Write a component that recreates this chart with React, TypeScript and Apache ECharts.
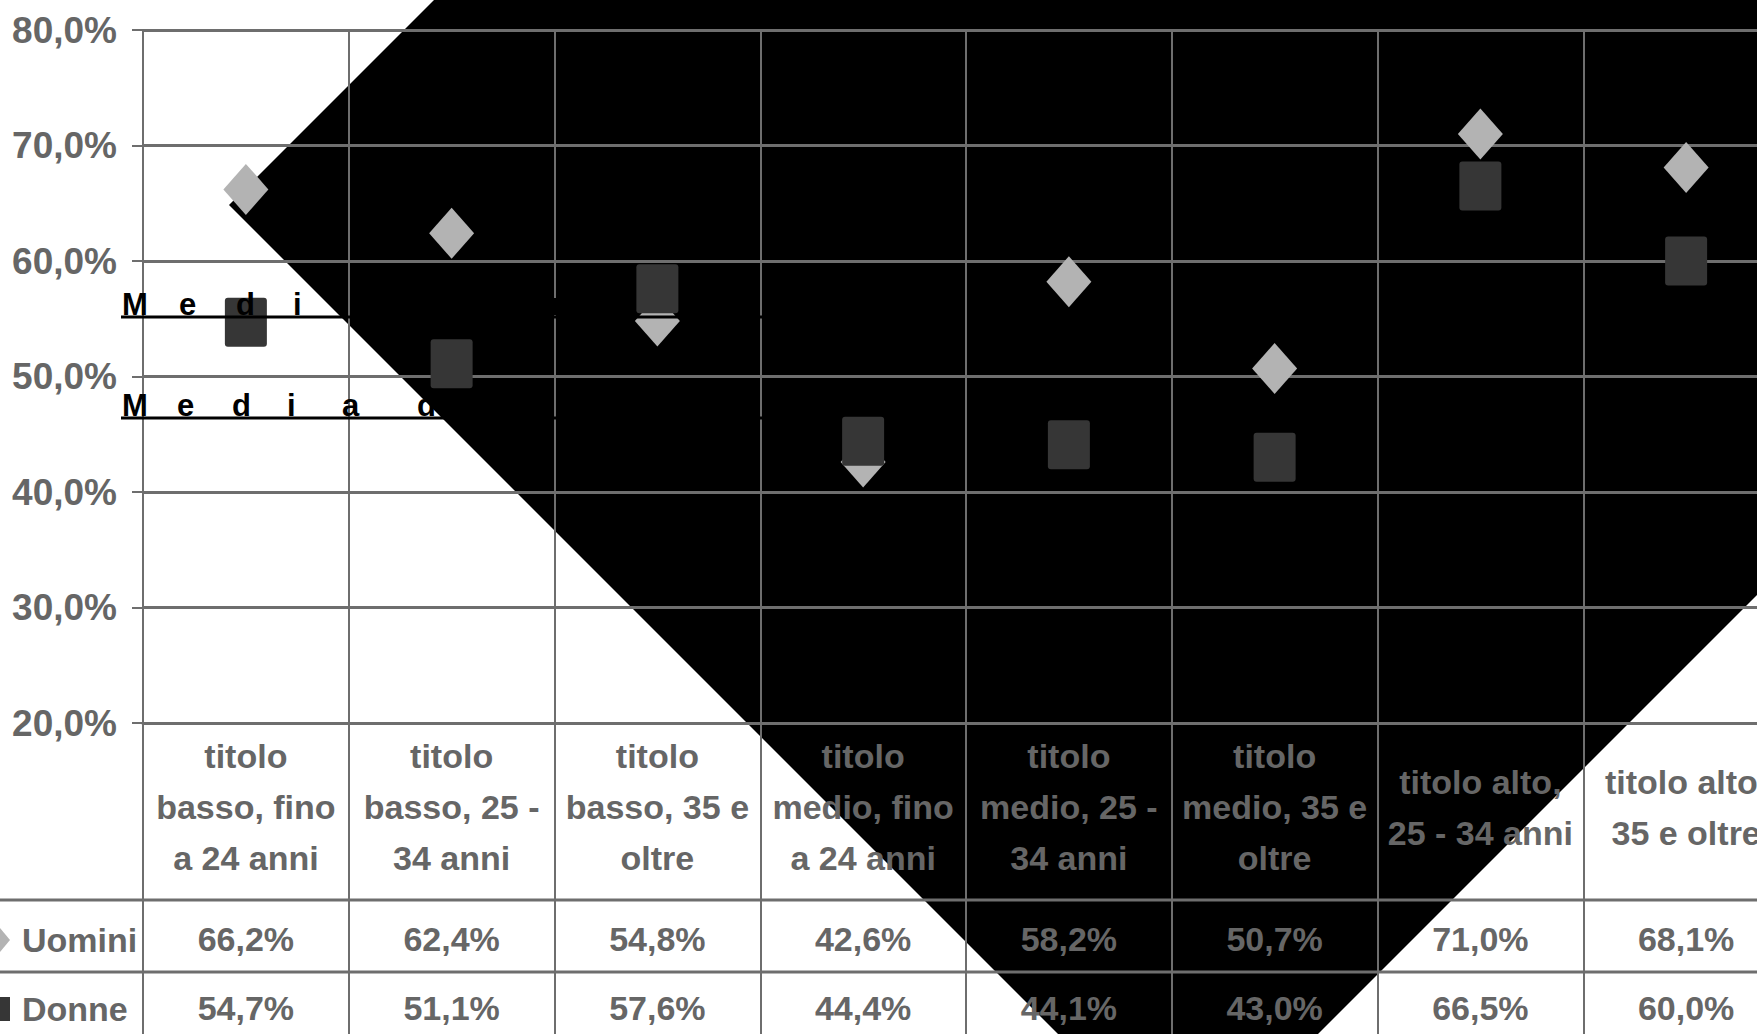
import React, { useEffect, useRef } from "react";
import * as echarts from "echarts";

const categories = [
  "titolo\nbasso, fino\na 24 anni",
  "titolo\nbasso, 25 -\n34 anni",
  "titolo\nbasso, 35 e\noltre",
  "titolo\nmedio, fino\na 24 anni",
  "titolo\nmedio, 25 -\n34 anni",
  "titolo\nmedio, 35 e\noltre",
  "titolo alto,\n25 - 34 anni",
  "titolo alto,\n35 e oltre",
];
const uomini = [66.2, 62.4, 54.8, 42.6, 58.2, 50.7, 71.0, 68.1];
const donne = [54.7, 51.1, 57.6, 44.4, 44.1, 43.0, 66.5, 60.0];
const seriesNames = ["Uomini", "Donne"];
const yMin = 20;
const yMax = 80;
const yStep = 10;
const notes = ["Media uomini", "Media donne"];

const FONT = "'Liberation Sans Narrow', 'Arial Narrow', 'Liberation Sans', Arial, sans-serif";
const GRAY = "#666666";
const LINE = "#6e6e6e";
const SQUARE = "path://M3,0L39,0Q42,0 42,3L42,46Q42,49 39,49L3,49Q0,49 0,46L0,3Q0,0 3,0Z";

const fmt = (v: number) => v.toFixed(1).replace(".", ",") + "%";

function letterTexts(str: string, x0: number, baseY: number, pitch: number, spacePitch: number) {
  const out: any[] = [];
  let x = x0;
  let word = 0;
  for (const ch of str) {
    if (ch === " ") {
      x += spacePitch;
      word += 1;
      continue;
    }
    out.push({
      type: "text",
      x,
      y: baseY - 11,
      z: word === 0 ? 100 : 1,
      style: {
        text: ch,
        fill: "#000",
        fontSize: 31,
        fontWeight: "bold",
        fontFamily: "'Liberation Sans', Arial, sans-serif",
        verticalAlign: "middle",
        align: "left",
      },
    });
    x += pitch;
  }
  return out;
}

export default function App() {
  const ref = useRef<HTMLDivElement>(null);
  useEffect(() => {
    const chart = echarts.init(ref.current!, null, { renderer: "svg" });
    const labelBase = {
      fontFamily: FONT,
      fontWeight: "bold" as const,
      color: GRAY,
    };
    chart.setOption({
      animation: false,
      grid: {
        left: 143,
        top: 30,
        height: 693,
        width: 1646,
        containLabel: false,
        outerBoundsMode: "none",
      },
      legend: {
        orient: "vertical",
        left: -15,
        top: 915,
        height: 160,
        itemWidth: 20,
        itemHeight: 24,
        itemGap: 29,
        data: [
          { name: seriesNames[0], icon: "diamond" },
          { name: seriesNames[1], icon: "rect" },
        ],
        textStyle: { ...labelBase, fontSize: 34, lineHeight: 40, padding: [0, 0, 0, 7] },
      },
      xAxis: [
        {
          type: "category",
          data: categories,
          position: "bottom",
          boundaryGap: true,
          axisLine: { show: true, lineStyle: { color: LINE, width: 3 } },
          axisTick: { show: true, length: 311, inside: false, lineStyle: { color: LINE, width: 2 } },
          splitLine: { show: true, lineStyle: { color: LINE, width: 2 } },
          axisLabel: {
            ...labelBase,
            interval: 0,
            hideOverlap: false,
            fontSize: 34,
            lineHeight: 51,
            margin: 84,
            verticalAlign: "middle",
            align: "center",
          },
        },
        {
          type: "category",
          data: categories,
          position: "bottom",
          offset: 177,
          axisLine: { show: false },
          axisTick: { show: false },
          splitLine: { show: false },
          axisLabel: {
            ...labelBase,
            interval: 0,
            hideOverlap: false,
            fontSize: 34,
            margin: 39,
            verticalAlign: "middle",
            formatter: (_v: string, i: number) => fmt(uomini[i]),
          },
        },
        {
          type: "category",
          data: categories,
          position: "bottom",
          offset: 249,
          axisLine: { show: false },
          axisTick: { show: false },
          splitLine: { show: false },
          axisLabel: {
            ...labelBase,
            interval: 0,
            hideOverlap: false,
            fontSize: 34,
            margin: 36,
            verticalAlign: "middle",
            formatter: (_v: string, i: number) => fmt(donne[i]),
          },
        },
      ],
      yAxis: {
        type: "value",
        min: yMin,
        max: yMax,
        interval: yStep,
        axisLine: { show: true, lineStyle: { color: LINE, width: 2 } },
        axisTick: { show: true, length: 11, lineStyle: { color: LINE, width: 2 } },
        splitLine: { show: true, lineStyle: { color: LINE, width: 3 } },
        axisLabel: {
          ...labelBase,
          fontSize: 37,
          margin: 26,
          formatter: (v: number) => fmt(v),
        },
      },
      series: [
        {
          name: seriesNames[0],
          type: "scatter",
          data: uomini,
          symbol: "diamond",
          symbolSize: [45, 51],
          itemStyle: { color: "#b3b3b3", opacity: 1 },
          z: 3,
        },
        {
          name: seriesNames[1],
          type: "scatter",
          data: donne,
          symbol: SQUARE,
          symbolSize: [42, 49],
          itemStyle: { color: "#363636", opacity: 1 },
          z: 4,
        },
      ],
      graphic: [
        {
          type: "polygon",
          z: -10,
          silent: true,
          shape: { points: [[229, 205], [1188, -754], [2147, 205], [1188, 1164]] },
          style: { fill: "#000000" },
        },
        {
          type: "line",
          z: 1,
          shape: { x1: 0, y1: 900, x2: 1757, y2: 900 },
          style: { stroke: LINE, lineWidth: 3 },
        },
        {
          type: "line",
          z: 1,
          shape: { x1: 0, y1: 972, x2: 1757, y2: 972 },
          style: { stroke: LINE, lineWidth: 3 },
        },
        {
          type: "line",
          z: 100,
          shape: { x1: 121, y1: 317, x2: 770, y2: 317 },
          style: { stroke: "#000", lineWidth: 3 },
        },
        {
          type: "line",
          z: 100,
          shape: { x1: 121, y1: 418, x2: 770, y2: 418 },
          style: { stroke: "#000", lineWidth: 3 },
        },
        ...letterTexts(notes[0], 122, 315, 57, 30),
        ...letterTexts(notes[1], 122, 416, 55, 20),
      ],
    });
    return () => chart.dispose();
  }, []);
  return (
    <div
      ref={ref}
      style={{ position: "fixed", left: 0, top: 0, width: 1757, height: 1034, background: "#fff" }}
    />
  );
}
